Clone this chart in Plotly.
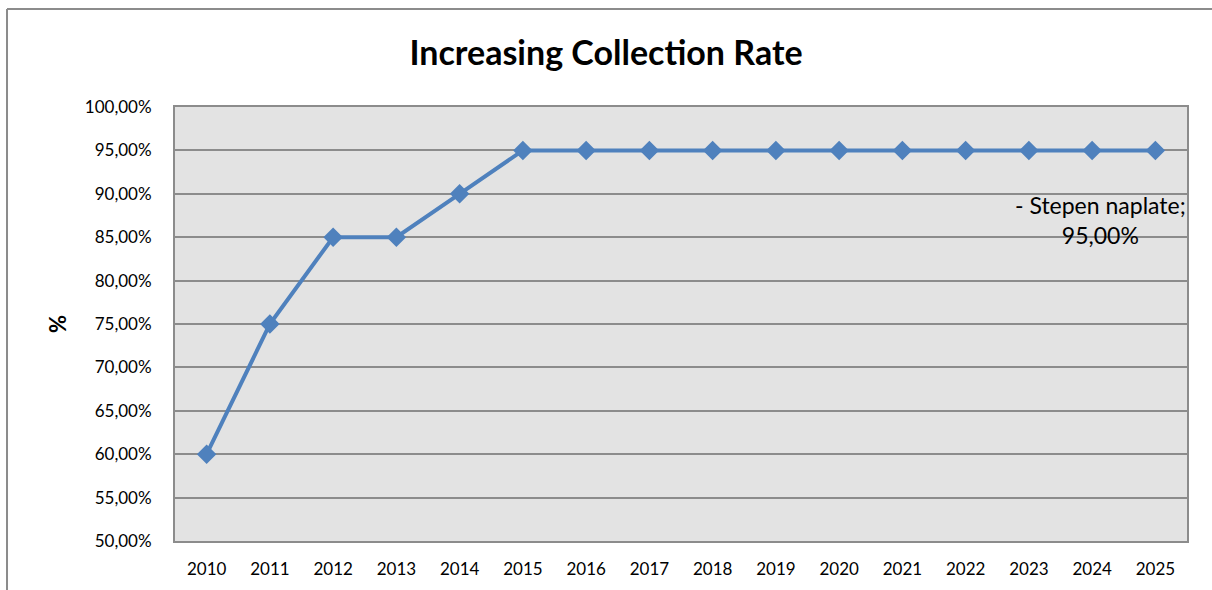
import plotly.graph_objects as go

years = [str(y) for y in range(2010, 2026)]
collection_rate = [0.60, 0.75, 0.85, 0.85, 0.90, 0.95, 0.95, 0.95, 0.95, 0.95,
                   0.95, 0.95, 0.95, 0.95, 0.95, 0.95]
series_name = "Stepen naplate"
y_ticks = [0.50, 0.55, 0.60, 0.65, 0.70, 0.75, 0.80, 0.85, 0.90, 0.95, 1.00]

FONT = "Lato, 'Open Sans', sans-serif"
BLUE = "#4f81bd"
FRAME = "#8c8c8c"

fig = go.Figure()
fig.add_trace(go.Scatter(
    x=years, y=collection_rate, name=series_name, mode="lines+markers",
    line=dict(color=BLUE, width=4),
    marker=dict(symbol="diamond", size=15, color=BLUE),
    showlegend=False,
))

# data label for the last point
last_idx = len(years) - 1
last_val = collection_rate[-1]
label_val = f"{last_val * 100:.2f}".replace(".", ",") + "%"
fig.add_annotation(
    x=last_idx, y=last_val, xref="x", yref="y",
    text=f"- {series_name};<br>{label_val}",
    showarrow=False, xshift=-55, yshift=-70, align="center",
    font=dict(family=FONT, size=23, color="#000000"),
)

# outer chart frame (top and left edges)
fig.add_shape(type="line", xref="paper", yref="paper",
              x0=-0.166, x1=1.03, y0=1.2258, y1=1.2258,
              line=dict(color=FRAME, width=2))
fig.add_shape(type="line", xref="paper", yref="paper",
              x0=-0.166, x1=-0.166, y0=-0.2, y1=1.2258,
              line=dict(color=FRAME, width=2))

fig.update_layout(
    width=1212, height=590,
    margin=dict(l=175, r=25, t=107, b=49),
    paper_bgcolor="white", plot_bgcolor="#e3e3e3",
    separators=", ",
    font=dict(family=FONT, size=17, color="#000000"),
    title=dict(text="<b>Increasing Collection Rate</b>", x=0.5, xref="container",
               y=0.91, yanchor="middle", font=dict(family=FONT, size=34, color="#000000")),
    xaxis=dict(type="category", range=[-0.5, 15.5], showgrid=False,
               showline=True, linecolor=FRAME, linewidth=2, mirror=True,
               ticks="", ticklabelstandoff=12, tickfont=dict(size=17)),
    yaxis=dict(range=[0.5, 1.0], tickvals=y_ticks, tickformat=".2%",
               showgrid=True, gridcolor=FRAME, gridwidth=1.5,
               showline=True, linecolor=FRAME, linewidth=2, mirror=True,
               ticks="", ticklabelstandoff=18, tickfont=dict(size=17),
               title=dict(text="<b>%</b>", font=dict(size=22), standoff=12),
               zeroline=False),
)

fig.write_html("out.html")
